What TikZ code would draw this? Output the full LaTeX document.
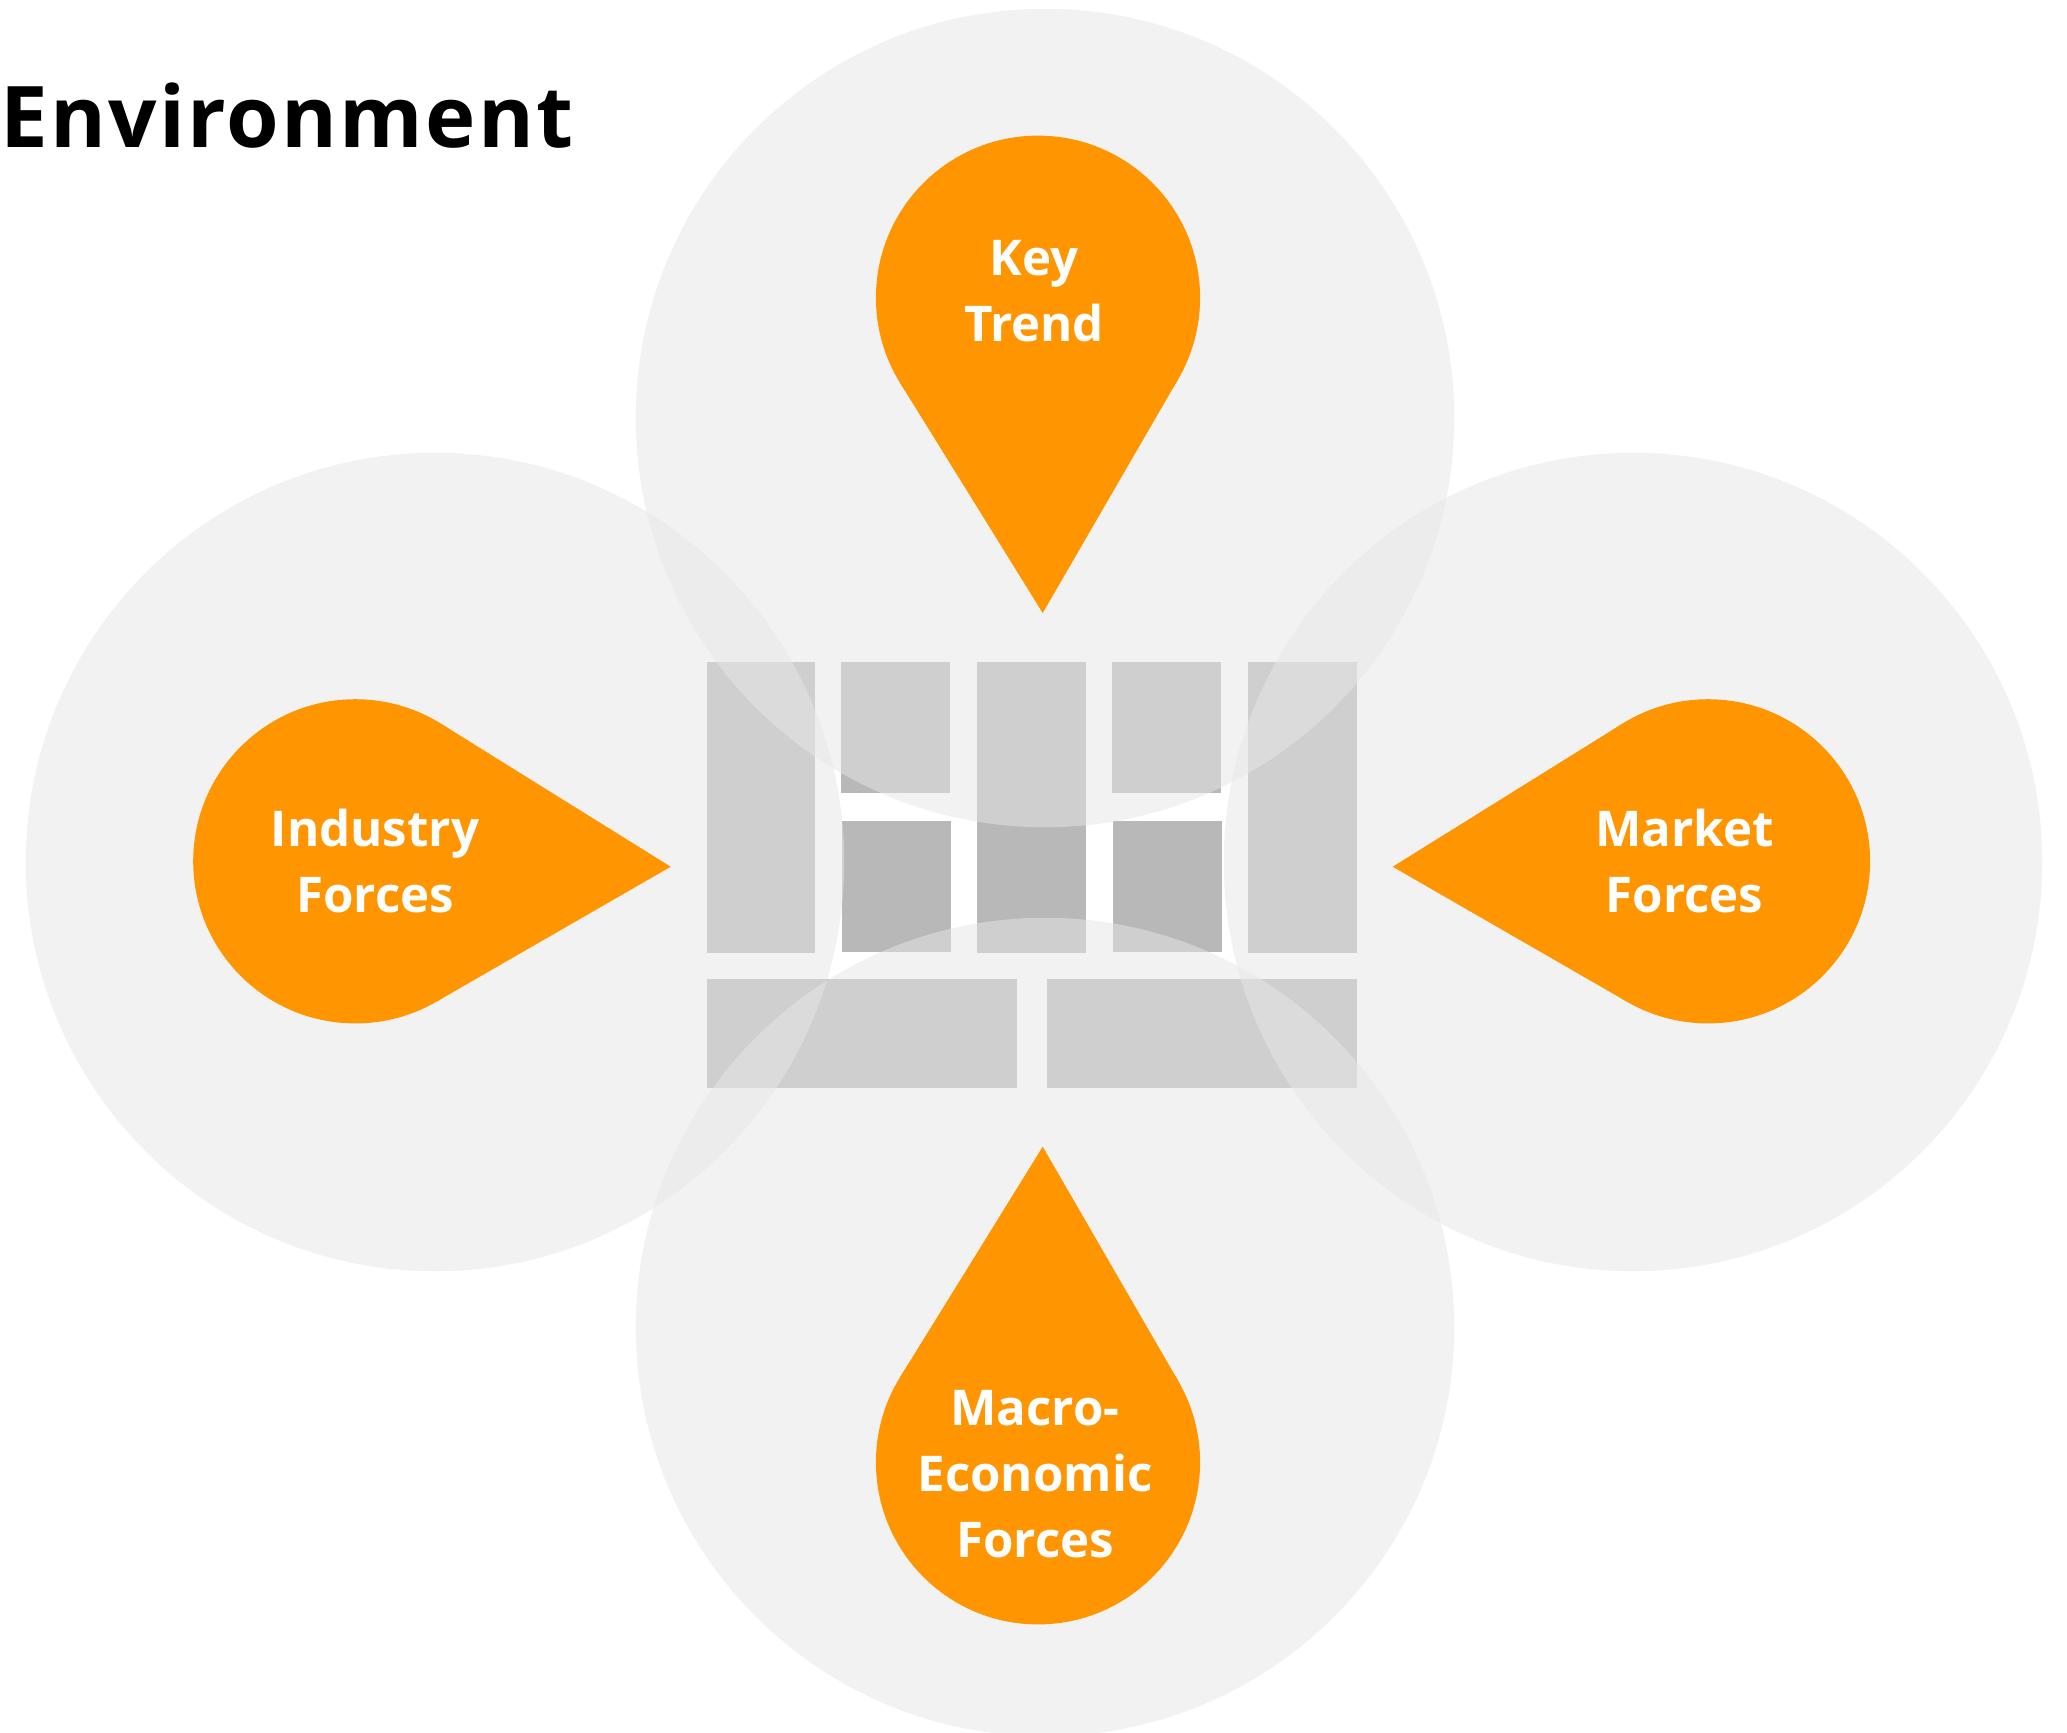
\documentclass[tikz,border=0pt]{standalone}
\usepackage{fontspec}
\setmainfont{Open Sans}
\usetikzlibrary{calc}
\definecolor{pinorange}{HTML}{FF9500}
\definecolor{blockgray}{HTML}{B8B8B8}
\definecolor{envgray}{HTML}{E7E7E7}
\begin{document}
\begin{tikzpicture}[x=0.01cm,y=-0.01cm,
  envcircle/.style={circle,minimum size=8.18cm,inner sep=0pt,outer sep=0pt,fill=envgray,fill opacity=0.5,draw=none},
  block/.style={fill=blockgray},
  pinhead/.style={circle,minimum size=3.24cm,inner sep=0pt,outer sep=0pt,fill=pinorange,draw=none},
  pintip/.style={fill=pinorange},
  pintext/.style={text=white,inner sep=0pt,outer sep=0pt,anchor=base,font=\fontsize{14}{18.8}\selectfont\bfseries},
  titletext/.style={text=black,inner sep=0pt,outer sep=0pt,anchor=base west,font=\fontsize{24.2}{29}\selectfont\bfseries\addfontfeatures{LetterSpace=2.6}}]
\useasboundingbox (0,0) rectangle (2067,1732);
\fill[white] (0,0) rectangle (2067,1732);
% canvas blocks
\path[block] (707,662) rectangle (815,953);
\path[block] (841,662) rectangle (950,793);
\path[block] (842,821) rectangle (951,952);
\path[block] (977,662) rectangle (1086,953);
\path[block] (1112,662) rectangle (1221,793);
\path[block] (1113,821) rectangle (1222,952);
\path[block] (1248,662) rectangle (1357,953);
\path[block] (707,979) rectangle (1017,1088);
\path[block] (1047,979) rectangle (1357,1088);
% environment circles
\node[envcircle] (topcircle) at (1045,418) {};
\node[envcircle] (leftcircle) at (435,862) {};
\node[envcircle] (rightcircle) at (1633,862) {};
\node[envcircle] (bottomcircle) at (1045,1327) {};
% pins
\coordinate (kttip) at (1042.7,613);
\coordinate (iftip) at (670.7,866.7);
\coordinate (mftip) at (1392.7,866.7);
\coordinate (metip) at (1042.7,1146.7);
\node[pinhead] (kthead) at (1038,297.7) {};
\node[pinhead] (ifhead) at (355.3,861.3) {};
\node[pinhead] (mfhead) at (1708,861.3) {};
\node[pinhead] (mehead) at (1038,1462.3) {};
\foreach \h/\t in {kthead/kttip,ifhead/iftip,mfhead/mftip,mehead/metip}{
  \fill[pintip] (tangent cs:node=\h,point={(\t)},solution=1) -- (\t) -- (tangent cs:node=\h,point={(\t)},solution=2) -- cycle;
}
\node[pintext] (kttext) at (1034,275.7) {\begin{tabular}[t]{@{}c@{}}Key\\Trend\end{tabular}};
\node[pintext] (iftext) at (375,846.7) {\begin{tabular}[t]{@{}c@{}}Industry\\Forces\end{tabular}};
\node[pintext] (mftext) at (1684.5,846.7) {\begin{tabular}[t]{@{}c@{}}Market\\Forces\end{tabular}};
\node[pintext] (metext) at (1035,1425.7) {\begin{tabular}[t]{@{}c@{}}Macro-\\Economic\\Forces\end{tabular}};
% title
\node[titletext] (envtitle) at (1,147) {Environment};
\end{tikzpicture}
\end{document}
